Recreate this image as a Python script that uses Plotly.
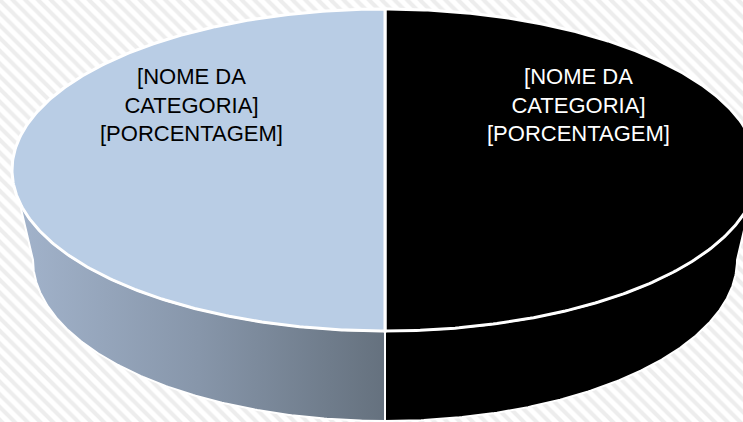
import numpy as np
import plotly.graph_objects as go

# ---- data ----
categories = ["[NOME DA CATEGORIA]", "[NOME DA CATEGORIA]"]
values = [50, 50]
value_labels = ["[PORCENTAGEM]", "[PORCENTAGEM]"]

# ---- styles ----
top_colors = ["#000000", "#B9CDE5"]
side_scales = [
    [[0, "#000000"], [1, "#000000"]],
    [[0, "#a3b4cc"], [0.5, "#8796aa"], [1, "#65717e"]],
]
text_colors = ["#ffffff", "#000000"]

W, H = 743, 422
cx, cy, rx, ry = 385.0, 170.0, 373.0, 161.0
depth, rxb = 90.0, 352.0


def top_pt(t):
    r = np.radians(t)
    return cx + rx * np.cos(r), cy - ry * np.sin(r)


def bot_pt(t):
    r = np.radians(t)
    return cx + rxb * np.cos(r), cy + depth - ry * np.sin(r)


fig = go.Figure()

# hatched background
fig.add_trace(go.Scatter(
    x=[0, W, W, 0, 0], y=[0, 0, H, H, 0], mode="lines", fill="toself",
    line=dict(width=0), fillcolor="#ffffff",
    fillpattern=dict(shape="\\", size=9, solidity=0.45, fgcolor="#dcdcdc", bgcolor="#ffffff"),
    hoverinfo="skip", showlegend=False))

total = float(sum(values))
cum = np.concatenate([[0], np.cumsum(values)]) / total
angles = [(90 - 360 * cum[i], 90 - 360 * cum[i + 1]) for i in range(len(values))]

# side walls (front half only)
for i, (a_hi, a_lo) in enumerate(angles):
    for k in range(-2, 2):
        f_hi, f_lo = 0 + 360 * k, -180 + 360 * k
        hi, lo = min(a_hi, f_hi), max(a_lo, f_lo)
        if hi - lo <= 0.01:
            continue
        ts = np.linspace(hi, lo, 200)
        tx, ty = top_pt(ts)
        bx, by = bot_pt(ts[::-1])
        xs = np.concatenate([tx, bx, tx[:1]])
        ys = np.concatenate([ty, by, ty[:1]])
        fig.add_trace(go.Scatter(
            x=xs, y=ys, mode="lines", fill="toself",
            fillgradient=dict(type="horizontal", colorscale=side_scales[i]),
            line=dict(color="#ffffff", width=2),
            hoverinfo="skip", showlegend=False))

# top faces
for i, (a_hi, a_lo) in enumerate(angles):
    ts = np.linspace(a_hi, a_lo, 300)
    tx, ty = top_pt(ts)
    xs = np.concatenate([[cx], tx, [cx]])
    ys = np.concatenate([[cy], ty, [cy]])
    fig.add_trace(go.Scatter(
        x=xs, y=ys, mode="lines", fill="toself", fillcolor=top_colors[i],
        line=dict(color="#ffffff", width=3),
        name=categories[i], hoverinfo="skip", showlegend=False))

# labels
for i, (a_hi, a_lo) in enumerate(angles):
    mid = np.radians((a_hi + a_lo) / 2)
    lx = cx + 0.52 * rx * np.cos(mid)
    parts = categories[i].rsplit(" ", 1)
    txt = "<br>".join([parts[0], parts[1], value_labels[i]])
    fig.add_annotation(
        x=lx, y=cy - 65, xref="x", yref="y", text=txt,
        showarrow=False, xanchor="center", yanchor="middle", align="center",
        font=dict(family="Liberation Sans, Arial", size=22, color=text_colors[i]))

fig.update_layout(
    width=W, height=H, margin=dict(l=0, r=0, t=0, b=0),
    paper_bgcolor="#ffffff", plot_bgcolor="#ffffff",
    xaxis=dict(range=[0, W], visible=False, fixedrange=True),
    yaxis=dict(range=[H, 0], visible=False, fixedrange=True),
    showlegend=False)

fig.write_html("out.html", config={"displayModeBar": False},
               post_script="document.body.style.margin='0';document.body.style.overflow='hidden';")
